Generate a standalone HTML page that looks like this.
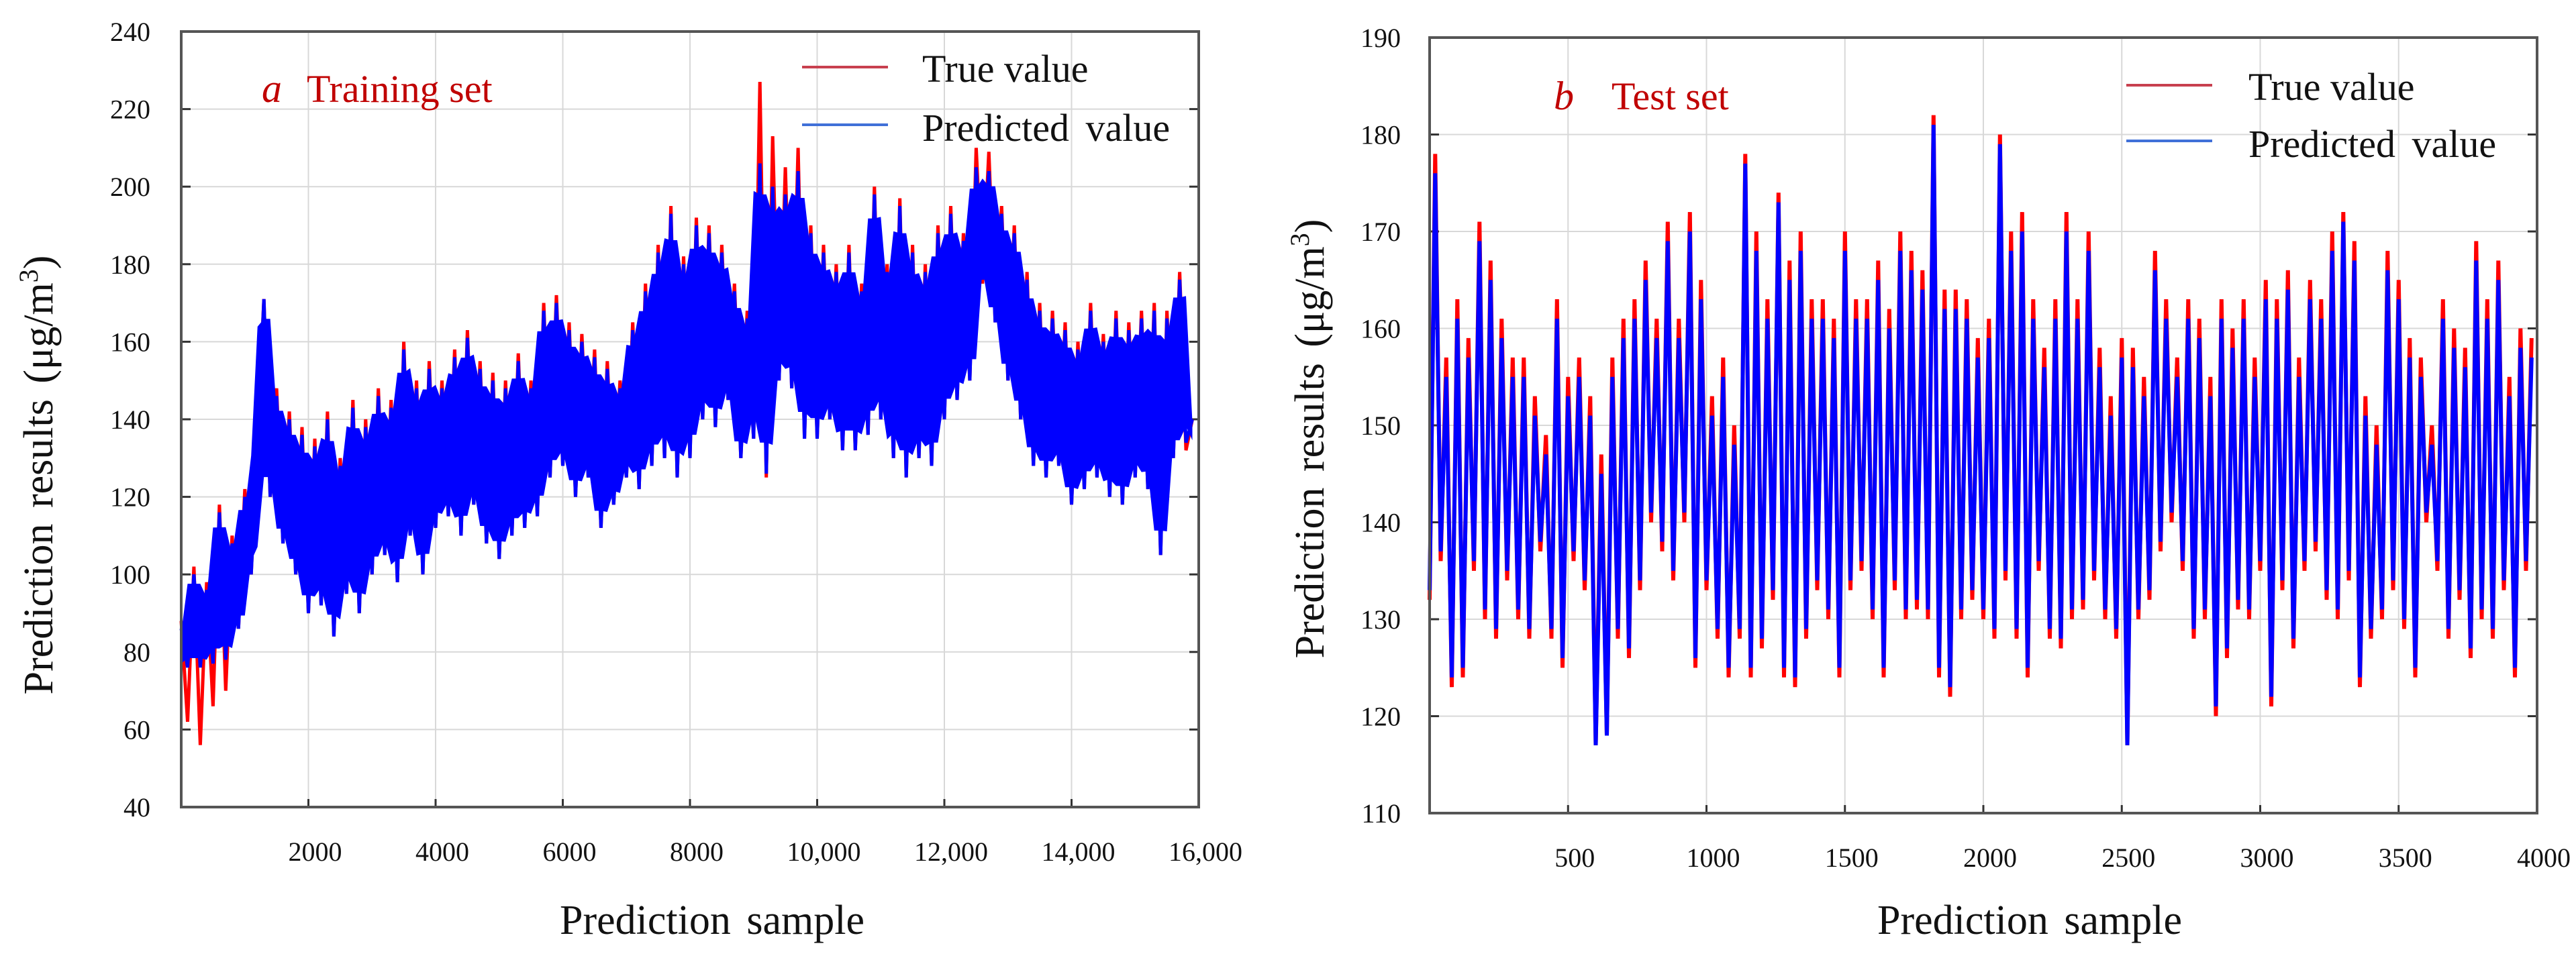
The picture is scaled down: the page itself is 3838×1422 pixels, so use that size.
<!DOCTYPE html>
<html><head><meta charset="utf-8"><style>
html,body{margin:0;padding:0;background:#fff;}
svg{display:block;font-family:"Liberation Serif",serif;}
</style></head><body>
<svg id="chart" width="3838" height="1422" viewBox="0 0 3838 1422" xmlns="http://www.w3.org/2000/svg">
<rect width="3838" height="1422" fill="#fff"/>
<g id="left"></g>
<g id="right"></g>
</svg>
<script>
const trainXTicks=[2000,4000,6000,8000,10000,12000,14000,16000];
const trainXTickLabels=["2000","4000","6000","8000","10,000","12,000","14,000","16,000"];
const trainYTicks=[40,60,80,100,120,140,160,180,200,220,240];
const trainStep=100;
const trainTrue=[88,62,102,56,98,66,118,70,110,86,122,100,136,171,120,148,108,142,100,138,
90,135,92,142,84,130,95,145,90,140,100,148,105,145,98,160,110,150,100,155,
112,150,115,158,110,163,118,155,108,152,104,150,110,157,112,150,115,170,125,172,
128,165,120,162,125,158,112,155,118,150,125,165,122,175,128,185,130,195,125,182,
130,192,140,190,138,185,145,175,130,168,135,227,125,
213,150,205,148,210,135,190,135,185,140,180,132,185,132,175,136,200,140,180,130,197,125,185,130,180,128,
190,140,195,145,188,150,210,175,209,165,195,150,190,140,178,128,170,125,168,128,
165,118,160,122,170,125,162,120,168,118,165,125,168,122,170,105,168,130,178,132,140];
const trainPred=[86,76,100,76,96,77,116,78,108,86,120,100,134,171,120,146,108,140,100,136,
90,133,92,140,84,128,95,143,90,138,100,146,105,143,98,158,110,148,100,153,
112,148,115,156,110,161,118,153,108,150,104,148,110,155,112,148,115,168,125,170,
128,163,120,160,125,156,112,153,118,148,125,163,122,173,128,183,130,193,125,180,
130,190,140,188,138,183,145,173,130,166,135,206,126,
200,150,198,148,204,135,188,135,183,140,178,132,183,132,173,136,198,140,178,130,195,125,183,130,178,128,
188,140,193,145,186,150,205,176,204,165,193,150,188,140,176,128,168,125,166,128,
163,118,158,122,168,125,160,120,166,118,163,125,166,122,168,105,166,130,176,134,140];

const testXTicks=[500,1000,1500,2000,2500,3000,3500,4000];
const testXTickLabels=["500","1000","1500","2000","2500","3000","3500","4000"];
const testYTicks=[110,120,130,140,150,160,170,180,190];
const testStep=20;
const testTrue=[132,178,136,157,123,163,124,159,135,171,130,167,128,161,134,157,130,157,128,153,
137,149,128,163,125,155,136,157,133,153,117,147,118,157,128,161,126,163,133,167,
140,161,137,171,134,161,140,172,125,165,133,153,128,157,124,150,128,178,124,170,
127,163,132,174,124,167,123,170,128,163,133,163,130,161,124,170,133,163,135,163,
130,167,124,162,133,170,130,168,131,166,130,182,124,164,122,164,130,163,132,159,
130,161,128,180,134,170,128,172,124,163,135,158,128,163,127,172,130,163,131,170,
134,158,130,153,128,159,117,158,130,155,132,168,137,163,140,157,135,163,128,161,
130,155,120,163,126,160,131,163,130,157,135,165,121,163,133,166,127,157,135,165,
137,163,132,170,130,172,134,169,123,153,128,150,130,168,133,165,129,159,124,157,
140,150,135,163,128,160,132,158,126,169,130,163,128,167,133,155,124,160,135,159];
const testPred=[133,176,137,155,124,161,125,157,136,169,131,165,129,159,135,155,131,155,129,151,
138,147,129,161,126,153,137,155,134,151,117,145,118,155,129,159,127,161,134,165,
141,159,138,169,135,159,141,170,126,163,134,151,129,155,125,148,129,177,125,168,
128,161,133,173,125,165,124,168,129,161,134,161,131,159,125,168,134,161,136,161,
131,165,125,160,134,168,131,166,132,164,131,181,125,162,123,162,131,161,133,157,
131,159,129,179,135,168,129,170,125,161,136,156,129,161,128,170,131,161,132,168,
135,156,131,151,129,157,117,156,131,153,133,166,138,161,141,155,136,161,129,159,
131,153,121,161,127,158,132,161,131,155,136,163,122,161,134,164,128,155,136,163,
138,161,133,168,131,171,135,167,124,151,129,148,131,166,134,163,130,157,125,155,
141,148,136,161,129,158,133,156,127,167,131,161,129,165,134,153,125,158,136,157];

const NS="http://www.w3.org/2000/svg";
function mk(parent,tag,attrs,text){const e=document.createElementNS(NS,tag);for(const k in attrs)e.setAttribute(k,attrs[k]);if(text!==undefined)e.textContent=text;parent.appendChild(e);return e;}

function drawChart(g,cfg){
  const {L,R,T,B,xmin,xmax,ymin,ymax}=cfg;
  const sx=v=>L+(v-xmin)/(xmax-xmin)*(R-L);
  const sy=v=>B-(v-ymin)/(ymax-ymin)*(B-T);
  cfg.xTicks.forEach((t,i)=>{
    if(t<xmax){const gl=mk(g,'line',{x1:sx(t),x2:sx(t),y1:T,y2:B,stroke:'#d8d8d8','stroke-width':2});
    
    }
    const tk=mk(g,'line',{x1:sx(t),x2:sx(t),y1:B,y2:B-12,stroke:'#333','stroke-width':3});
    
    
    const tl=mk(g,'text',{x:sx(t)+10,y:B+80,'font-size':40,'text-anchor':'middle',fill:'#111'},cfg.xLabels[i]);
    
    
  });
  cfg.yTicks.forEach(t=>{
    if(t>ymin&&t<ymax){const gl=mk(g,'line',{x1:L,x2:R,y1:sy(t),y2:sy(t),stroke:'#d8d8d8','stroke-width':2});
    
    
    const tk=mk(g,'line',{x1:L,x2:L+14,y1:sy(t),y2:sy(t),stroke:'#333','stroke-width':3});
    
    
    const tk2=mk(g,'line',{x1:R,x2:R-14,y1:sy(t),y2:sy(t),stroke:'#333','stroke-width':3});
    
    }
    const tl=mk(g,'text',{x:cfg.yLabelX,y:sy(t)+14,'font-size':40,'text-anchor':'end',fill:'#111'},String(t));
    
    
  });
  const pts=(arr,step)=>arr.map((v,i)=>sx(Math.min(i*step,xmax)).toFixed(1)+','+sy(v).toFixed(1)).join(' ');
  function band(arr,step,shrink){
    const n=arr.length, up=[], lo=[];
    for(let i=0;i<n;i++){
      const a=arr[Math.max(0,i-1)],b=arr[i],c=arr[Math.min(n-1,i+1)];
      const mx=Math.max(a,b,c), mn=Math.min(a,b,c);
      const m=(mx-mn)*shrink;
      const x=sx(Math.min(i*step,xmax)).toFixed(1);
      up.push(x+','+sy(mx-m).toFixed(1));
      lo.unshift(x+','+sy(mn+m).toFixed(1));
    }
    return up.concat(lo).join(' ');
  }
  const tr=mk(g,'polyline',{points:pts(cfg.trueV,cfg.step),fill:'none',stroke:'#ff0000','stroke-width':cfg.sw,'stroke-linejoin':'miter'});
  
  
  if(cfg.band){
    const bb=mk(g,'polygon',{points:band(cfg.predV,cfg.step,0.1),fill:'#0000ff',stroke:'none'});
    
    
  }
  const pr=mk(g,'polyline',{points:pts(cfg.predV,cfg.step),fill:'none',stroke:'#0000ff','stroke-width':cfg.sw,'stroke-linejoin':'miter'});
  
  
  const fr=mk(g,'rect',{x:L,y:T,width:R-L,height:B-T,fill:'none',stroke:'#555','stroke-width':4});
  
  
  const l1=mk(g,'line',{x1:cfg.legX,x2:cfg.legX+128,y1:cfg.legY1,y2:cfg.legY1,stroke:'#c8404f','stroke-width':4});
  
  
  const l2=mk(g,'line',{x1:cfg.legX,x2:cfg.legX+128,y1:cfg.legY2,y2:cfg.legY2,stroke:'#4070d8','stroke-width':4});
  
  
  const t1=mk(g,'text',{x:cfg.legTX,y:cfg.legY1+22,'font-size':58,fill:'#111'},'True value');
  
  
  const t2=mk(g,'text',{x:cfg.legTX,y:cfg.legY2+24,'font-size':58,fill:'#111','word-spacing':10},'Predicted value');
  
  
  const pa=mk(g,'text',{x:cfg.panelX,y:cfg.panelY,'font-size':60,fill:'#c00000','font-style':'italic'},cfg.panelLetter);
  
  
  const pt=mk(g,'text',{x:cfg.panelTX,y:cfg.panelY,'font-size':58,fill:'#c00000'},cfg.panelTitle);
  
  
  const xt=mk(g,'text',{x:cfg.xTitleX,y:1392,'font-size':62,'text-anchor':'middle',fill:'#111','word-spacing':8},'Prediction sample');
  
  
  const yt=mk(g,'text',{x:0,y:0,'font-size':62,'text-anchor':'middle',fill:'#111','word-spacing':8,transform:`translate(${cfg.yTitleX},${cfg.yTitleY}) rotate(-90)`});
  
  
  yt.textContent='Prediction results (μg/m';
  mk(yt,'tspan',{'font-size':40,dy:-22},'3');
  mk(yt,'tspan',{dy:22},')');
}

drawChart(document.getElementById('left'),{L:270,R:1786,T:47,B:1203,xmin:0,xmax:16000,ymin:40,ymax:240,
  xTicks:trainXTicks,xLabels:trainXTickLabels,yTicks:trainYTicks,yLabelX:224,step:trainStep,trueV:trainTrue,predV:trainPred,
  band:true,sw:5,
  legX:1195,legY1:100,legY2:186,legTX:1374,panelLetter:'a',panelTitle:'Training set',panelX:390,panelTX:457,panelY:152,
  xTitleX:1061,yTitleX:78,yTitleY:708});
drawChart(document.getElementById('right'),{L:2130,R:3780,T:56,B:1212,xmin:0,xmax:4000,ymin:110,ymax:190,
  xTicks:testXTicks,xLabels:testXTickLabels,yTicks:testYTicks,yLabelX:2087,step:testStep,trueV:testTrue,predV:testPred,
  band:false,sw:6,
  legX:3168,legY1:127,legY2:210,legTX:3350,panelLetter:'b',panelTitle:'Test set',panelX:2315,panelTX:2401,panelY:163,
  xTitleX:3024,yTitleX:1972,yTitleY:654});
</script>
</body></html>
